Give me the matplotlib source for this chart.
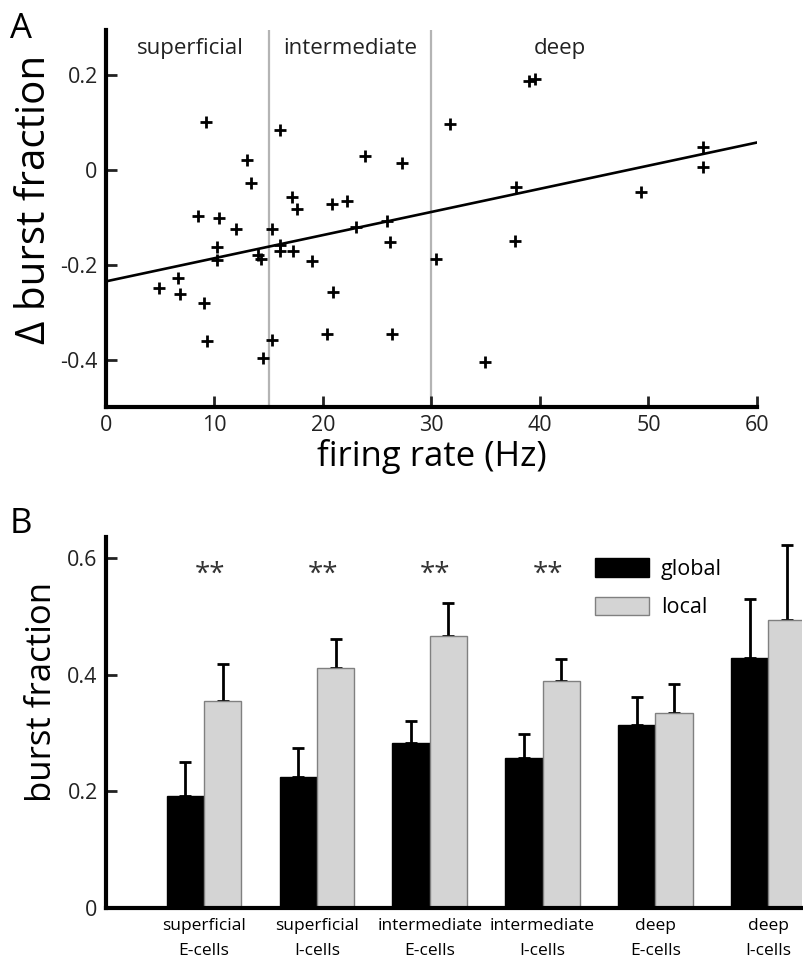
import numpy as np
import matplotlib
matplotlib.use('Agg')
import matplotlib.pyplot as plt

plt.rcParams['font.family'] = ['Open Sans', 'DejaVu Sans']

# painel A: taxa de disparo (Hz) x variação da fração de burst
taxa = [9.2, 16.0, 13.0, 13.4, 23.9, 27.3, 17.1, 17.6, 20.8, 22.2,
        8.5, 10.4, 12.0, 15.3, 23.0, 25.9, 10.2, 10.2, 14.0, 14.3,
        16.0, 16.0, 17.2, 19.0, 26.2, 30.4, 6.6, 4.85, 6.8, 9.0,
        20.9, 9.3, 15.3, 20.4, 26.4, 14.5, 39.0, 39.5, 31.7, 55.0,
        55.0, 37.8, 49.3, 37.7, 34.9]
delta_burst = [0.100, 0.084, 0.020, -0.027, 0.030, 0.014, -0.058, -0.082, -0.072, -0.065,
               -0.097, -0.102, -0.125, -0.125, -0.121, -0.107, -0.163, -0.189, -0.179, -0.188,
               -0.159, -0.172, -0.171, -0.192, -0.153, -0.188, -0.227, -0.249, -0.261, -0.281,
               -0.258, -0.361, -0.358, -0.345, -0.345, -0.396, 0.187, 0.192, 0.097, 0.049,
               0.006, -0.037, -0.046, -0.149, -0.404]
reta_coef = [0.00488, -0.235]   # inclinação, intercepto
limites_camada = [15, 30]
camadas = ['superficial', 'intermediate', 'deep']
pos_camadas = [7.8, 22.5, 41.8]

# painel B: fração de burst por tipo celular
rotulos = ['superficial\nE-cells', 'superficial\nI-cells', 'intermediate\nE-cells',
           'intermediate\nI-cells', 'deep\nE-cells', 'deep\nI-cells']
global_media = [0.192, 0.224, 0.283, 0.257, 0.314, 0.429]
global_erro = [0.059, 0.051, 0.038, 0.041, 0.048, 0.100]
local_media = [0.355, 0.412, 0.467, 0.389, 0.335, 0.493]
local_erro = [0.063, 0.049, 0.056, 0.038, 0.049, 0.129]
significativo = [True, True, True, True, False, False]

fig = plt.figure(figsize=(8.04, 9.71), dpi=100)

# ---------- A ----------
axA = fig.add_axes([0.1318, 0.5808, 0.8097, 0.3883])
for xl in limites_camada:
    axA.axvline(xl, color='#b4b4b4', lw=1.6, zorder=1)
xr = np.array([0, 60])
axA.plot(xr, reta_coef[0] * xr + reta_coef[1], color='k', lw=1.9, zorder=2)
axA.plot(taxa, delta_burst, '+', color='k', ms=9, mew=2, zorder=3)
for nome, xc in zip(camadas, pos_camadas):
    axA.text(xc, 0.255, nome, ha='center', va='center', fontsize=16, color='#222222')

axA.set_xlim(0, 60)
axA.set_ylim(-0.5, 0.295)
axA.set_xticks(range(0, 61, 10))
axA.set_yticks([-0.4, -0.2, 0, 0.2])
axA.set_yticklabels(['-0.4', '-0.2', '0', '0.2'])
axA.spines['top'].set_visible(False)
axA.spines['right'].set_visible(False)
axA.spines['left'].set_linewidth(3)
axA.spines['bottom'].set_linewidth(3)
axA.tick_params(direction='in', length=8, width=2, labelsize=15.5, pad=6, colors='#222222')
axA.set_xlabel('firing rate (Hz)', fontsize=25, labelpad=2)
axA.set_ylabel('Δ burst fraction', fontsize=29)
axA.yaxis.set_label_coords(-0.078, 0.55)
fig.text(0.012, 0.988, 'A', fontsize=25, va='top', ha='left')

# ---------- B ----------
axB = fig.add_axes([0.1318, 0.0649, 0.8657, 0.3821])
x = np.arange(len(rotulos))
larg = 0.33
axB.bar(x - larg / 2, global_media, larg, color='k', edgecolor='k', lw=1, label='global', zorder=2)
axB.bar(x + larg / 2, local_media, larg, color='#d4d4d4', edgecolor='#808080', lw=1, label='local', zorder=2)
zeros = np.zeros(len(x))
axB.errorbar(x - larg / 2, global_media, yerr=[zeros, global_erro], fmt='none',
             ecolor='k', elinewidth=2, capsize=4, capthick=2, zorder=1)
axB.errorbar(x + larg / 2, local_media, yerr=[zeros, local_erro], fmt='none',
             ecolor='k', elinewidth=2, capsize=4, capthick=2, zorder=1)
for xi, sig in zip(x, significativo):
    if sig:
        axB.text(xi + 0.05, 0.572, '**', ha='center', va='center', fontsize=20, color='#333333')

axB.set_xlim(-0.87, 5.30)
axB.set_ylim(0, 0.636)
axB.set_yticks([0, 0.2, 0.4, 0.6])
axB.set_yticklabels(['0', '0.2', '0.4', '0.6'])
axB.set_xticks(x)
axB.set_xticklabels(rotulos, fontsize=12.5, linespacing=1.75)
axB.spines['top'].set_visible(False)
axB.spines['right'].set_visible(False)
axB.spines['left'].set_linewidth(3)
axB.spines['bottom'].set_linewidth(3)
axB.tick_params(axis='y', direction='in', length=8, width=2, labelsize=15.5, pad=6, colors='#222222')
axB.tick_params(axis='x', length=0, pad=7)
axB.set_ylabel('burst fraction', fontsize=25)
axB.yaxis.set_label_coords(-0.068, 0.582)
axB.legend(loc='upper left', bbox_to_anchor=(0.675, 0.995), frameon=False, fontsize=15.5,
           handlelength=2.5, handleheight=0.95, labelspacing=0.78, handletextpad=0.55)
fig.text(0.012, 0.478, 'B', fontsize=25, va='top', ha='left')

fig.savefig('out.png', dpi=100)
